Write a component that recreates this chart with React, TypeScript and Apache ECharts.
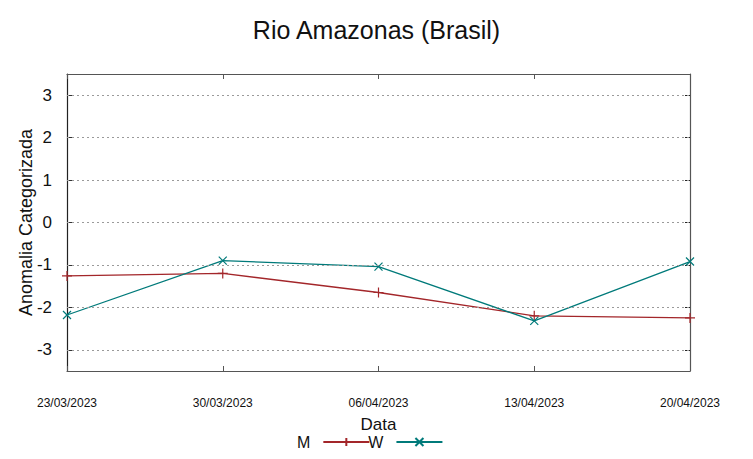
import React, { useEffect, useRef } from "react";
import * as echarts from "echarts";

const dates = ["23/03/2023", "30/03/2023", "06/04/2023", "13/04/2023", "20/04/2023"];
const seriesM = [-1.26, -1.2, -1.65, -2.2, -2.25];
const seriesW = [-2.18, -0.9, -1.04, -2.32, -0.92];
const yTicks = [-3, -2, -1, 0, 1, 2, 3];

const RED = "#a3262a";
const TEAL = "#007a7a";
const FONT = "Liberation Sans, Arial, sans-serif";

const plusSym = "path://M5,0L5,10M0,5L10,5";
const crossSym = "path://M0,0L10,10M10,0L0,10";

export default function App() {
  const ref = useRef<HTMLDivElement>(null);
  useEffect(() => {
    const chart = echarts.init(ref.current!, null, { renderer: "svg" });
    chart.setOption({
      animation: false,
      backgroundColor: "#ffffff",
      title: {
        text: "Rio Amazonas (Brasil)",
        left: "center",
        top: 12,
        textStyle: { fontFamily: FONT, fontSize: 25, fontWeight: "normal", color: "#111" },
      },
      grid: { left: 67, right: 63, top: 74, bottom: 88 },
      legend: {
        data: ["M", "W"],
        top: 429,
        left: 292,
        align: "right",
        itemWidth: 46,
        itemHeight: 10,
        itemGap: -2,
        textStyle: { fontFamily: FONT, fontSize: 16, color: "#111", padding: [0, 8, 0, 0] },
      },
      xAxis: [
        {
          type: "category",
          data: dates,
          boundaryGap: false,
          position: "bottom",
          name: "Data",
          nameLocation: "middle",
          nameGap: 45,
          nameMoveOverlap: false,
          nameTextStyle: { fontFamily: FONT, fontSize: 17, color: "#111" },
          axisLine: { onZero: false, lineStyle: { color: "#555", width: 1.2 } },
          axisTick: { inside: true, length: 5, lineStyle: { color: "#555" } },
          axisLabel: { margin: 26, fontFamily: FONT, fontSize: 12, color: "#111", interval: 0 },
          splitLine: { show: false },
        },
        {
          type: "category",
          data: dates,
          boundaryGap: false,
          position: "top",
          axisLine: { onZero: false, lineStyle: { color: "#555", width: 1.2 } },
          axisTick: { inside: true, length: 5, lineStyle: { color: "#555" } },
          axisLabel: { show: false },
          splitLine: { show: false },
        },
      ],
      yAxis: [
        {
          type: "value",
          min: -3.5,
          max: 3.5,
          position: "left",
          name: "Anomalia Categorizada",
          nameLocation: "middle",
          nameGap: 32,
          nameMoveOverlap: false,
          nameTextStyle: { fontFamily: FONT, fontSize: 18, color: "#111" },
          axisLine: { show: true, lineStyle: { color: "#222", width: 1.2 } },
          axisTick: { show: true, inside: true, length: 5, customValues: yTicks, lineStyle: { color: "#333" } },
          axisLabel: { margin: 15, fontFamily: FONT, fontSize: 17, color: "#111", customValues: yTicks },
          splitLine: { show: false },
        },
        {
          type: "value",
          min: -3.5,
          max: 3.5,
          position: "right",
          axisLine: { show: true, lineStyle: { color: "#555", width: 1.2 } },
          axisTick: { show: true, inside: true, length: 5, customValues: yTicks, lineStyle: { color: "#222" } },
          axisLabel: { show: false, customValues: yTicks },
          splitLine: { show: false },
        },
      ],
      series: [
        {
          name: "M",
          type: "line",
          data: seriesM,
          symbol: plusSym,
          symbolSize: 10,
          showSymbol: true,
          lineStyle: { color: RED, width: 1.3 },
          itemStyle: { color: "none", borderColor: RED, borderWidth: 1.2 },
          markLine: {
            silent: true,
            symbol: "none",
            label: { show: false },
            lineStyle: { color: "#9a9a9a", type: [2, 3], width: 1 },
            data: yTicks.map((v) => ({ yAxis: v })),
          },
          z: 3,
        },
        {
          name: "W",
          type: "line",
          data: seriesW,
          symbol: crossSym,
          symbolSize: 8,
          showSymbol: true,
          lineStyle: { color: TEAL, width: 1.3 },
          itemStyle: { color: "none", borderColor: TEAL, borderWidth: 1.2 },
          z: 4,
        },
      ],
    });
    return () => chart.dispose();
  }, []);
  return (
    <div
      ref={ref}
      style={{ position: "fixed", left: 0, top: 0, width: 753, height: 459 }}
    />
  );
}
